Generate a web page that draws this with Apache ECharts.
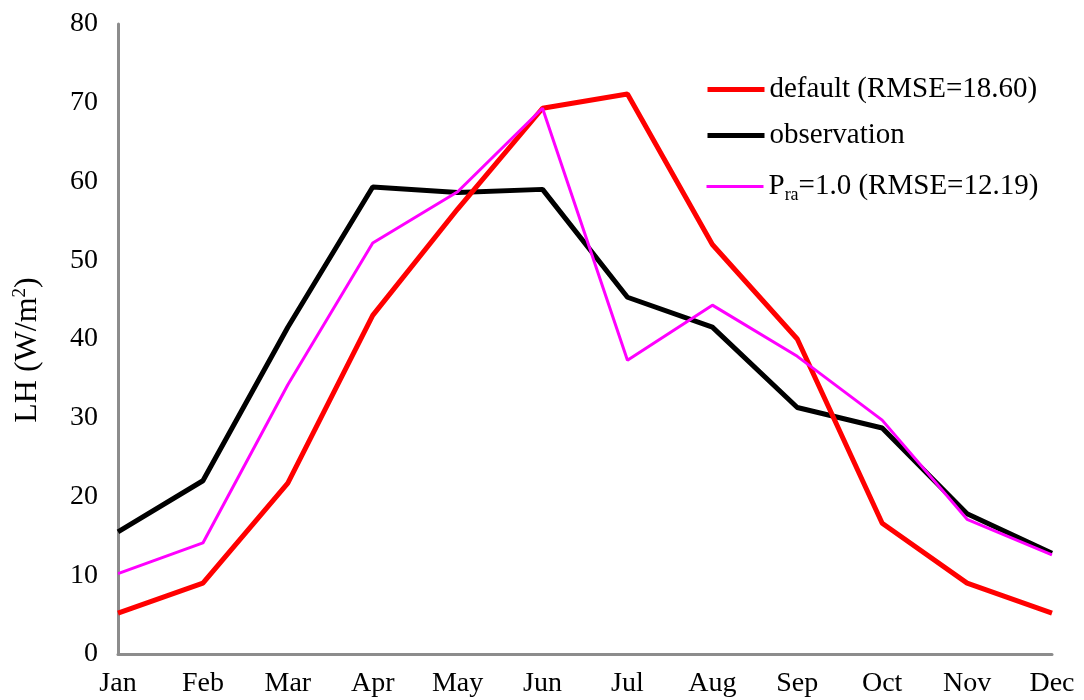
<!DOCTYPE html>
<html>
<head>
<meta charset="utf-8">
<script src="https://cdn.jsdelivr.net/npm/echarts@6/dist/echarts.min.js"></script>
<style>
  html, body { margin: 0; padding: 0; background: #fff; }
  #chart { width: 1084px; height: 700px; }
</style>
</head>
<body>
<div id="chart"></div>
<script>
// Monthly latent heat flux, LH (W/m2)
const months = ['Jan', 'Feb', 'Mar', 'Apr', 'May', 'Jun', 'Jul', 'Aug', 'Sep', 'Oct', 'Nov', 'Dec'];
const defaultRun = [5.2, 9.0, 21.7, 43.0, 56.5, 69.3, 71.1, 52.0, 40.0, 16.6, 9.0, 5.2];
const observation = [15.5, 22.0, 41.5, 59.3, 58.6, 59.0, 45.3, 41.5, 31.3, 28.7, 17.8, 12.8];
const pra10Run = [10.2, 14.1, 34.2, 52.2, 58.7, 69.3, 37.3, 44.3, 37.8, 29.7, 17.1, 12.6];
const yTicks = { min: 0, max: 80, interval: 10 };

const serif = 'Liberation Serif';
const chart = echarts.init(document.getElementById('chart'));

const seriesNames = ['default (RMSE=18.60)', 'observation', 'Pra=1.0 (RMSE=12.19)'];
const seriesColors = ['#ff0000', '#000000', '#ff00ff'];
const seriesWidths = [5, 5, 3];

function legendItem(i) {
  return {
    name: seriesNames[i],
    itemStyle: { opacity: 0 },
    lineStyle: { color: seriesColors[i], width: seriesWidths[i], opacity: 1 }
  };
}

const legendBase = {
  orient: 'vertical',
  left: 705,
  padding: 0,
  itemWidth: 57,
  itemHeight: 16,
  itemGap: 14,
  textStyle: {
    fontFamily: serif, fontSize: 29, color: '#000',
    rich: {
      sub: { fontFamily: serif, fontSize: 18, color: '#000', padding: [18, 0, 0, 0] },
      txt: { fontFamily: serif, fontSize: 29, color: '#000' }
    }
  },
  formatter: function (name) {
    if (name === seriesNames[2]) return '{txt|P}{sub|ra}{txt|=1.0 (RMSE=12.19)}';
    return name;
  }
};

chart.setOption({
  backgroundColor: '#ffffff',
  animation: false,
  grid: { left: 118, right: 32, top: 24, bottom: 46, outerBoundsMode: 'none', containLabel: false },
  legend: [
    Object.assign({}, legendBase, { top: 75, itemGap: 17, data: [legendItem(0), legendItem(1)] }),
    Object.assign({}, legendBase, { top: 172, data: [legendItem(2)] })
  ],
  xAxis: {
    type: 'category',
    data: months,
    boundaryGap: false,
    axisLine: { lineStyle: { color: '#8c8c8c', width: 3 } },
    axisTick: { show: false },
    axisLabel: { fontFamily: serif, fontSize: 28, color: '#000', margin: 16 },
    splitLine: { show: false }
  },
  yAxis: {
    type: 'value',
    min: yTicks.min,
    max: yTicks.max,
    interval: yTicks.interval,
    name: '{a|LH (W/m}{sup|2}{a|)}',
    nameLocation: 'middle',
    nameGap: 74,
    nameTextStyle: {
      fontFamily: serif, fontSize: 32, color: '#000',
      padding: [0, 22, 0, 0],
      rich: {
        a: { fontFamily: serif, fontSize: 32, color: '#000' },
        sup: { fontFamily: serif, fontSize: 19, color: '#000', padding: [0, 0, 14, 0] }
      }
    },
    axisLine: { show: true, lineStyle: { color: '#8c8c8c', width: 3 } },
    axisTick: { show: false },
    axisLabel: { fontFamily: serif, fontSize: 28, color: '#000', margin: 20 },
    splitLine: { show: false }
  },
  series: seriesNames.map(function (n, i) {
    return {
      name: n,
      type: 'line',
      data: [defaultRun, observation, pra10Run][i],
      symbol: 'none',
      color: seriesColors[i],
      lineStyle: { color: seriesColors[i], width: seriesWidths[i] },
      z: [3, 2, 4][i]
    };
  })
});
</script>
</body>
</html>
